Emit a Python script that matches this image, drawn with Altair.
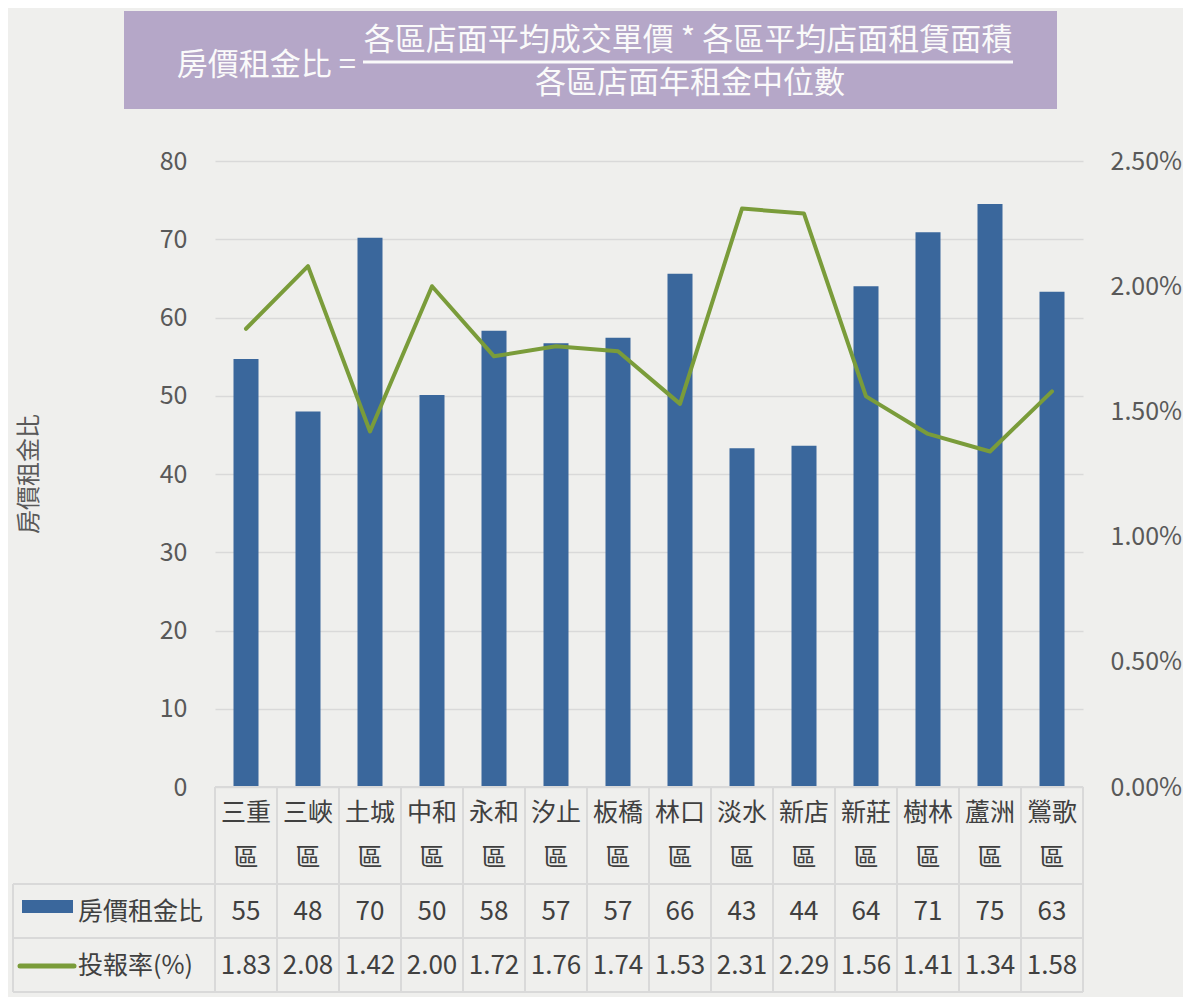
import altair as alt
import pandas as pd

districts = ["三重區", "三峽區", "土城區", "中和區", "永和區", "汐止區", "板橋區",
             "林口區", "淡水區", "新店區", "新莊區", "樹林區", "蘆洲區", "鶯歌區"]
ratio = [54.7, 48.0, 70.2, 50.1, 58.3, 56.7, 57.4, 65.6, 43.3, 43.6, 64.0, 70.9, 74.5, 63.3]
ratio_table = [55, 48, 70, 50, 58, 57, 57, 66, 43, 44, 64, 71, 75, 63]
yield_pct = [1.83, 2.08, 1.42, 2.00, 1.72, 1.76, 1.74, 1.53, 2.31, 2.29, 1.56, 1.41, 1.34, 1.58]
left_ticks = [0, 10, 20, 30, 40, 50, 60, 70, 80]
right_ticks = [0, 0.5, 1.0, 1.5, 2.0, 2.5]

df = pd.DataFrame({
    "district": districts,
    "name": [d[:-1] for d in districts],
    "suffix": [d[-1] for d in districts],
    "ratio": ratio,
    "ratio_label": [str(v) for v in ratio_table],
    "yield": yield_pct,
    "yield_label": [f"{v:.2f}" for v in yield_pct],
})
one = pd.DataFrame({"k": [0]})

FONT = "Noto Sans CJK TC"
BAR = "#3a679c"
LINE = "#7a9c3a"
GRID = "#d9d9d9"
TXT = "#404040"
AX = "#595959"

xs = alt.Scale(domain=districts, paddingInner=0, paddingOuter=0)
X = alt.X("district:N", scale=xs, axis=None)

base = alt.Chart(df)
deco = alt.Chart(one)

bars = base.mark_bar(size=25, color=BAR).encode(
    x=X,
    y=alt.Y("ratio:Q", scale=alt.Scale(domain=[0, 80]),
            axis=alt.Axis(values=left_ticks, title=None, domain=False, ticks=False,
                          labelPadding=28, grid=True, gridColor=GRID, gridWidth=1.5,
                          labelFontSize=25, labelColor=AX, labelFont=FONT)),
)

line = base.mark_line(color=LINE, strokeWidth=4, strokeCap="round", strokeJoin="round").encode(
    x=X,
    y=alt.Y("yield:Q", scale=alt.Scale(domain=[0, 2.5]),
            axis=alt.Axis(orient="right", values=right_ticks, title=None, domain=False,
                          ticks=False, grid=False, labelPadding=27,
                          labelExpr="format(datum.value, '.2f') + '%'",
                          labelFontSize=25, labelColor=AX, labelFont=FONT)),
)

# table grid
vlines = base.mark_rule(color=GRID, strokeWidth=2).encode(
    x=alt.X("district:N", scale=xs, axis=None, bandPosition=0),
    y=alt.value(626), y2=alt.value(831),
)
right_edge = deco.mark_rule(color=GRID, strokeWidth=2).encode(
    x=alt.value(868), y=alt.value(626), y2=alt.value(831))
left_edge = deco.mark_rule(color=GRID, strokeWidth=2).encode(
    x=alt.value(-202), y=alt.value(723), y2=alt.value(831))
hl_top = deco.mark_rule(color=GRID, strokeWidth=2).encode(
    x=alt.value(0), x2=alt.value(868), y=alt.value(626))
hl_rows = [deco.mark_rule(color=GRID, strokeWidth=2).encode(
    x=alt.value(-202), x2=alt.value(868), y=alt.value(yv)) for yv in (723, 777, 831)]

head_text = dict(font=FONT, fontSize=25, color=TXT, align="center", baseline="middle")
num_text = dict(font=FONT, fontSize=26, color=TXT, align="center", baseline="middle")
head1 = base.mark_text(**head_text).encode(x=X, y=alt.value(652), text="name:N")
head2 = base.mark_text(**head_text).encode(x=X, y=alt.value(697), text="suffix:N")
row1 = base.mark_text(**num_text).encode(x=X, y=alt.value(751), text="ratio_label:N")
row2 = base.mark_text(**num_text).encode(x=X, y=alt.value(805), text="yield_label:N")

leg_rect = deco.mark_rect(color=BAR).encode(
    x=alt.value(-193), x2=alt.value(-142), y=alt.value(739), y2=alt.value(752))
leg_line = deco.mark_rule(color=LINE, strokeWidth=5, strokeCap="round").encode(
    x=alt.value(-195), x2=alt.value(-141), y=alt.value(805))
leg_t1 = deco.mark_text(font=FONT, fontSize=25, color=TXT, align="left", baseline="middle",
                        text="房價租金比").encode(x=alt.value(-137), y=alt.value(751))
leg_t2 = deco.mark_text(font=FONT, fontSize=25, color=TXT, align="left", baseline="middle",
                        text="投報率(%)").encode(x=alt.value(-137), y=alt.value(805))

ytitle = deco.mark_text(font=FONT, fontSize=24, color=AX, angle=270, align="center",
                        baseline="middle", text="房價租金比").encode(
    x=alt.value(-185), y=alt.value(313))

# formula box
box = deco.mark_rect(color="#b5a7c8").encode(
    x=alt.value(-91), x2=alt.value(842), y=alt.value(-150), y2=alt.value(-52))
frac = deco.mark_rule(color="#fafafa", strokeWidth=3).encode(
    x=alt.value(148), x2=alt.value(798), y=alt.value(-99))
ftxt = dict(font=FONT, fontSize=31, color="#fafafa", baseline="middle")
f_left = deco.mark_text(align="right", text="房價租金比 =", **ftxt).encode(
    x=alt.value(141), y=alt.value(-95))
f_num = deco.mark_text(align="center", text="各區店面平均成交單價 * 各區平均店面租賃面積", **ftxt).encode(
    x=alt.value(473), y=alt.value(-120))
f_den = deco.mark_text(align="center", text="各區店面年租金中位數", **ftxt).encode(
    x=alt.value(475), y=alt.value(-77))

chart = alt.layer(
    box, frac, f_left, f_num, f_den,
    bars, line,
    vlines, right_edge, left_edge, hl_top, *hl_rows,
    head1, head2, row1, row2,
    leg_rect, leg_line, leg_t1, leg_t2, ytitle,
).resolve_scale(y="independent").properties(
    width=868, height=626,
    autosize=alt.AutoSizeParams(type="none"),
    padding={"left": 207, "top": 153, "right": 100, "bottom": 210},
    background="#efefed",
).configure_view(strokeWidth=0)

chart.save("out.html", embed_options={"renderer": "svg", "actions": False})
